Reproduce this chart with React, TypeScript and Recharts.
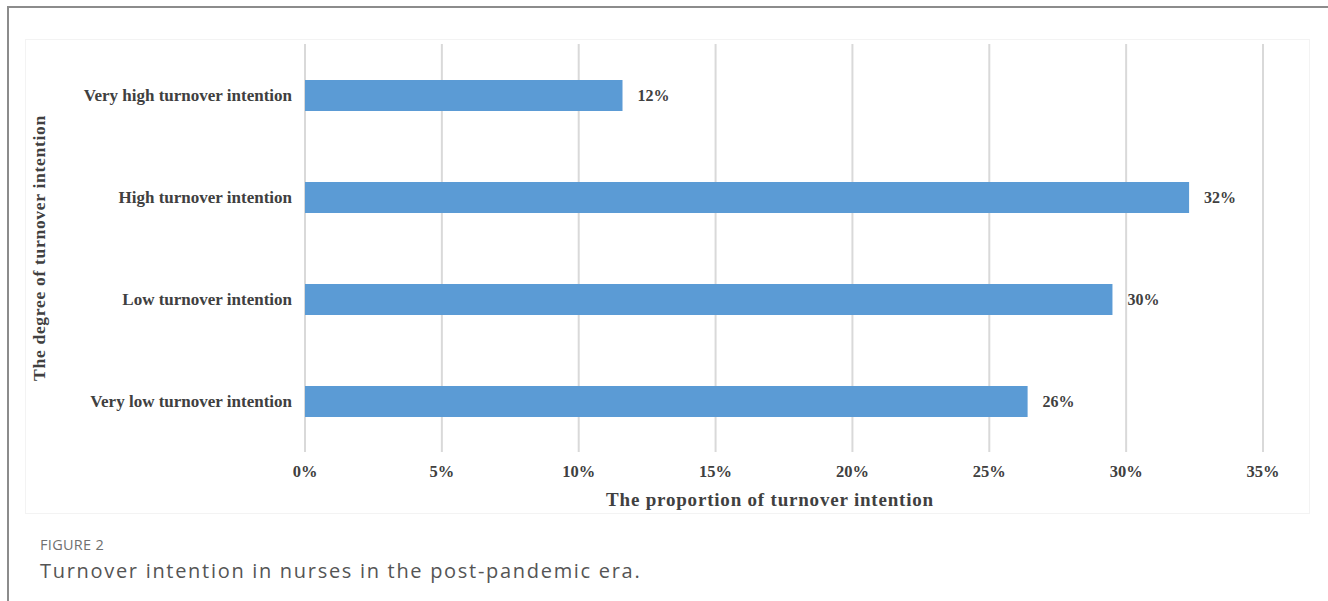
import { BarChart, Bar, XAxis, YAxis, CartesianGrid, LabelList } from 'recharts';

const categories = [
  'Very high turnover intention',
  'High turnover intention',
  'Low turnover intention',
  'Very low turnover intention',
];
const proportions = [11.6, 32.3, 29.5, 26.4];
const valueLabels = ['12%', '32%', '30%', '26%'];
const xTicks = [0, 5, 10, 15, 20, 25, 30, 35];

const data = categories.map((name, i) => ({
  name,
  value: proportions[i],
  label: valueLabels[i],
}));

const serif = '"Liberation Serif", "Times New Roman", serif';
const ink = '#404040';

const YTitle = ({ viewBox }: any) => {
  const cx = 45;
  const cy = viewBox.y + viewBox.height / 2;
  return (
    <text
      x={cx}
      y={cy}
      transform={`rotate(-90 ${cx} ${cy})`}
      textAnchor="middle"
      fontFamily={serif}
      fontWeight="bold"
      fontSize={17.5}
      letterSpacing={0.7}
      fill={ink}
    >
      The degree of turnover intention
    </text>
  );
};

// title sits a bit left of the plot centre in the original
const XTitle = ({ viewBox }: any) => (
  <text
    x={viewBox.x + viewBox.width / 2 - 14}
    y={viewBox.y + 54}
    textAnchor="middle"
    fontFamily={serif}
    fontWeight="bold"
    fontSize={19}
    letterSpacing={0.8}
    fill={ink}
  >
    The proportion of turnover intention
  </text>
);

export default function App() {
  return (
    <div style={{ position: 'fixed', left: 0, top: 0, width: 1328, height: 601, background: '#fff', overflow: 'hidden' }}>
      {/* outer frame */}
      <div style={{ position: 'absolute', left: 7, top: 6, right: -10, bottom: -10, borderTop: '2px solid #8c8c8c', borderLeft: '2px solid #8c8c8c' }} />
      {/* chart area */}
      <div style={{ position: 'absolute', left: 25, top: 39, width: 1285, height: 475, border: '1px solid #f3f3f3', boxSizing: 'border-box' }} />
      <div style={{ position: 'absolute', left: 0, top: 0 }}>
        <BarChart
          width={1328}
          height={601}
          data={data}
          layout="vertical"
          margin={{ top: 44, right: 65, bottom: 109, left: 25 }}
          barSize={31}
        >
          <CartesianGrid horizontal={false} stroke="#d9d9d9" strokeWidth={2} />
          <XAxis
            type="number"
            domain={[0, 35]}
            ticks={xTicks}
            tickFormatter={(v: number) => `${v}%`}
            axisLine={false}
            tickLine={false}
            tickMargin={7}
            height={40}
            tick={{ fontFamily: serif, fontWeight: 'bold', fontSize: 16.5, fill: ink }}
            label={<XTitle />}
          />
          <YAxis
            type="category"
            dataKey="name"
            width={280}
            axisLine={false}
            tickLine={false}
            tickMargin={7}
            tick={{ fontFamily: serif, fontWeight: 'bold', fontSize: 17, fill: ink }}
            label={<YTitle />}
          />
          <Bar dataKey="value" fill="#5b9bd5" isAnimationActive={false}>
            <LabelList
              dataKey="label"
              position="right"
              offset={15}
              style={{ fontFamily: serif, fontWeight: 'bold', fontSize: 16, fill: ink }}
            />
          </Bar>
        </BarChart>
      </div>
      <div style={{ position: 'absolute', left: 40, top: 535, fontFamily: '"Open Sans", sans-serif', fontSize: 14.5, color: '#707070', fontWeight: 500, letterSpacing: 0.3 }}>
        FIGURE 2
      </div>
      <div style={{ position: 'absolute', left: 40, top: 557, fontFamily: '"Open Sans", sans-serif', fontSize: 20, color: '#555', letterSpacing: 1.7 }}>
        Turnover intention in nurses in the post-pandemic era.
      </div>
    </div>
  );
}
